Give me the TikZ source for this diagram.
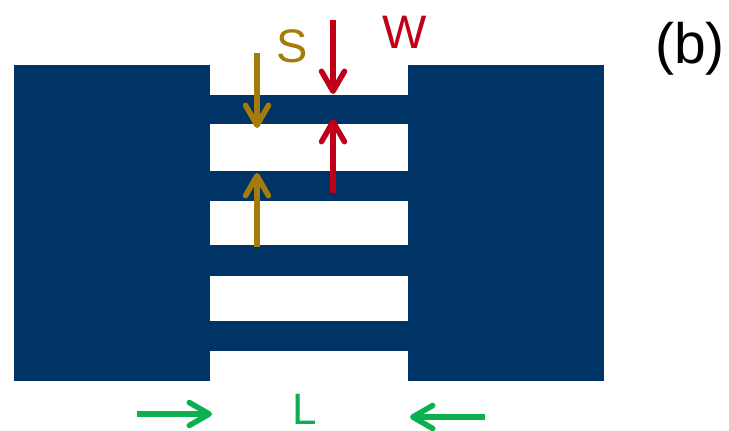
\documentclass[tikz,border=0pt]{standalone}
\usepackage{fontspec}
\setmainfont{Liberation Sans}
\usetikzlibrary{arrows.meta}
\definecolor{navy}{HTML}{003366}
\definecolor{redarrow}{HTML}{C00018}
\definecolor{goldarrow}{HTML}{A47C0C}
\definecolor{greenarrow}{HTML}{0DB04F}
\tikzset{
  x=1pt,y=-1pt,
  metal/.style={fill=navy,draw=none},
  dimarrow/.style={line width=6pt,-{Straight Barb[length=20pt,width=23pt,line width=5.5pt,round]}},
  lab/.style={inner sep=0pt,anchor=base,font=\fontsize{47}{54}\selectfont},
}
\begin{document}
\begin{tikzpicture}
\useasboundingbox (0,0) rectangle (729,431);
\fill[metal] (14,65) rectangle (210,381);
\fill[metal] (408,65) rectangle (604,381);
\fill[metal] (209,95) rectangle (409,124);
\fill[metal] (209,171) rectangle (409,201);
\fill[metal] (209,245) rectangle (409,276);
\fill[metal] (209,321) rectangle (409,351);
\coordinate (s1a) at (257,53); \coordinate (s1b) at (257,128);
\coordinate (s2a) at (257,247); \coordinate (s2b) at (257,173);
\coordinate (w1a) at (333,20); \coordinate (w1b) at (333,94);
\coordinate (w2a) at (333,193); \coordinate (w2b) at (333,119);
\coordinate (l1a) at (137,414); \coordinate (l1b) at (212,414);
\coordinate (l2a) at (485,417); \coordinate (l2b) at (410,417);
\draw[dimarrow,goldarrow] (s1a) -- (s1b);
\draw[dimarrow,goldarrow] (s2a) -- (s2b);
\draw[dimarrow,redarrow] (w1a) -- (w1b);
\draw[dimarrow,redarrow] (w2a) -- (w2b);
\draw[dimarrow,greenarrow] (l1a) -- (l1b);
\draw[dimarrow,greenarrow] (l2a) -- (l2b);
\node[lab,text=goldarrow] (S) at (292,62) {S};
\node[lab,text=redarrow] (W) at (405,48) {W};
\node[lab,text=greenarrow,font=\fontsize{44}{50}\selectfont] (L) at (305,424) {L};
\node[lab,text=black,font=\fontsize{57}{62}\selectfont] (b) at (690,63) {(b)};
\end{tikzpicture}
\end{document}
